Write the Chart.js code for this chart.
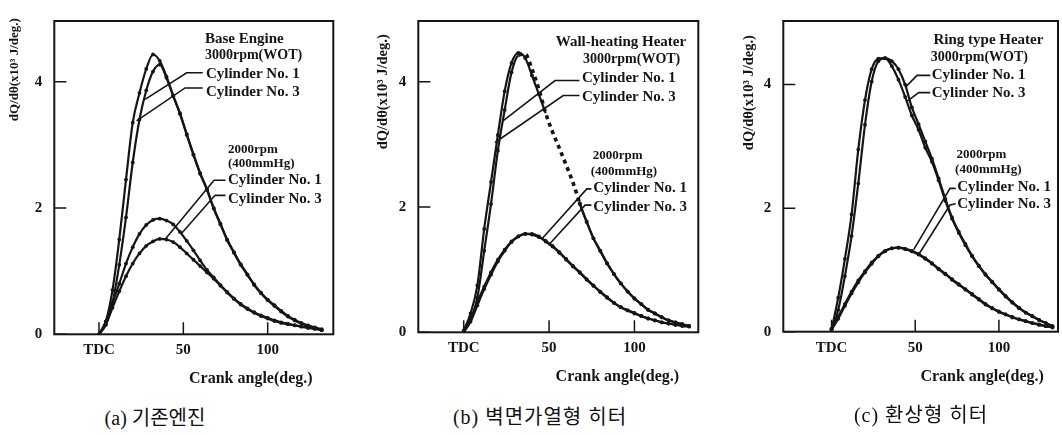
<!DOCTYPE html>
<html>
<head>
<meta charset="utf-8">
<script src="https://cdn.jsdelivr.net/npm/chart.js@4/dist/chart.umd.min.js"></script>
<style>
  body { margin: 0; background: #fff; }
  #wrap { position: relative; width: 1062px; height: 435px; overflow: hidden; }
  canvas { position: absolute; top: 0; }
  .cap {
    position: absolute; transform: translate(-50%, -50%); white-space: nowrap;
    font-family: "Liberation Serif", "Noto Sans CJK KR", serif; font-size: 20px; color: #111;
  }
</style>
</head>
<body>
<div id="wrap">
  <canvas id="chartA" width="354" height="400" style="left:0px"></canvas>
  <canvas id="chartB" width="354" height="400" style="left:354px"></canvas>
  <canvas id="chartC" width="354" height="400" style="left:708px"></canvas>
  <div class="cap" style="left:155px; top:416px">(a) 기존엔진</div>
  <div class="cap" style="left:540px; top:415px; letter-spacing:1px">(b) 벽면가열형 히터</div>
  <div class="cap" style="left:921px; top:413px; letter-spacing:1px">(c) 환상형 히터</div>
</div>
<script>
// crank angle (deg after TDC), shared by all curves
const angles = [0, 4, 8, 12, 16, 20, 24, 28, 32, 36, 40, 44, 48, 52, 56, 60, 64, 68, 72, 76,
  80, 84, 88, 92, 96, 100, 104, 108, 112, 116, 120, 124, 128, 132];

const xTickVals = [0, 50, 100];
const xTickLabels = ['TDC', '50', '100'];
const yTickVals = [0, 2, 4];
const yTickLabels = ['0', '2', '4'];

// (a) base engine, dQ/dθ in 10^3 J/deg
const aRpm3000Cyl1 = [0, 0.2, 0.7, 1.5, 2.45, 3.35, 3.82, 4.2, 4.43, 4.33, 4.08, 3.78, 3.5, 3.17, 2.85, 2.55, 2.3, 2.0,
  1.75, 1.5, 1.3, 1.11, 0.95, 0.79, 0.66, 0.55, 0.46, 0.37, 0.29, 0.23, 0.18, 0.14, 0.11, 0.08];
const aRpm3000Cyl3 = [0, 0.15, 0.5, 1.1, 1.85, 2.72, 3.4, 3.86, 4.16, 4.27, 4.06, 3.77, 3.49, 3.16, 2.84, 2.54, 2.29, 1.99,
  1.74, 1.49, 1.29, 1.1, 0.94, 0.78, 0.65, 0.54, 0.45, 0.36, 0.28, 0.22, 0.17, 0.13, 0.1, 0.07];
const aRpm2000Cyl1 = [0, 0.2, 0.5, 0.8, 1.12, 1.38, 1.59, 1.73, 1.81, 1.83, 1.8, 1.74, 1.62, 1.48, 1.33, 1.17, 1.02, 0.9,
  0.78, 0.67, 0.57, 0.48, 0.41, 0.35, 0.3, 0.26, 0.22, 0.19, 0.165, 0.145, 0.125, 0.11, 0.09, 0.07];
const aRpm2000Cyl3 = [0, 0.15, 0.42, 0.68, 0.92, 1.12, 1.28, 1.4, 1.47, 1.51, 1.5, 1.46, 1.38, 1.28, 1.18, 1.08, 0.98, 0.88,
  0.77, 0.66, 0.56, 0.47, 0.4, 0.34, 0.29, 0.25, 0.21, 0.18, 0.16, 0.14, 0.12, 0.1, 0.085, 0.065];

// (b) wall-heating heater
const bRpm3000Cyl1 = [0.03, 0.3, 0.75, 1.65, 2.4, 3.15, 3.85, 4.3, 4.46, 4.38, 4.1, 3.8, 3.5, 3.2, 2.93, 2.66, 2.38, 2.05,
  1.76, 1.5, 1.3, 1.1, 0.93, 0.78, 0.65, 0.54, 0.45, 0.36, 0.3, 0.24, 0.19, 0.16, 0.13, 0.1];
const bRpm3000Cyl3 = [0, 0.2, 0.55, 1.3, 2.05, 2.9, 3.55, 4.15, 4.42, 4.44, 4.2, 3.88, 3.5, 3.2, 2.94, 2.67, 2.39, 2.06,
  1.77, 1.5, 1.3, 1.1, 0.93, 0.78, 0.65, 0.54, 0.45, 0.36, 0.3, 0.24, 0.19, 0.16, 0.13, 0.1];
const bRpm2000Cyl1 = [0.02, 0.22, 0.48, 0.73, 0.96, 1.16, 1.32, 1.45, 1.53, 1.57, 1.57, 1.53, 1.46, 1.38, 1.28, 1.17, 1.06, 0.96,
  0.85, 0.75, 0.65, 0.56, 0.47, 0.4, 0.35, 0.31, 0.26, 0.22, 0.19, 0.16, 0.14, 0.12, 0.11, 0.1];
const bRpm2000Cyl3 = [0, 0.17, 0.43, 0.69, 0.92, 1.13, 1.3, 1.44, 1.53, 1.57, 1.56, 1.52, 1.45, 1.37, 1.27, 1.16, 1.05, 0.95,
  0.84, 0.74, 0.64, 0.55, 0.47, 0.4, 0.35, 0.3, 0.26, 0.22, 0.19, 0.16, 0.14, 0.12, 0.1, 0.09];

// (c) ring type heater
const cRpm3000Cyl1 = [0.03, 0.55, 1.18, 1.9, 2.95, 3.75, 4.25, 4.42, 4.43, 4.3, 4.08, 3.8, 3.5, 3.27, 2.98, 2.75, 2.45, 2.12,
  1.83, 1.6, 1.4, 1.22, 1.06, 0.92, 0.8, 0.68, 0.57, 0.47, 0.38, 0.31, 0.25, 0.19, 0.14, 0.09];
const cRpm3000Cyl3 = [0, 0.35, 0.9, 1.55, 2.4, 3.35, 4.05, 4.38, 4.43, 4.38, 4.25, 4.0, 3.63, 3.36, 3.08, 2.8, 2.48, 2.15,
  1.85, 1.62, 1.42, 1.23, 1.07, 0.93, 0.81, 0.69, 0.58, 0.48, 0.39, 0.31, 0.25, 0.19, 0.14, 0.09];
const cRpm2000Cyl1 = [0.05, 0.24, 0.45, 0.65, 0.83, 0.98, 1.12, 1.23, 1.31, 1.35, 1.36, 1.34, 1.31, 1.26, 1.19, 1.11, 1.02, 0.94,
  0.85, 0.77, 0.69, 0.61, 0.53, 0.45, 0.38, 0.33, 0.28, 0.24, 0.2, 0.17, 0.14, 0.12, 0.09, 0.07];
const cRpm2000Cyl3 = [0.03, 0.21, 0.42, 0.62, 0.8, 0.96, 1.1, 1.22, 1.3, 1.35, 1.36, 1.34, 1.3, 1.25, 1.18, 1.1, 1.01, 0.93,
  0.84, 0.76, 0.68, 0.6, 0.52, 0.44, 0.38, 0.32, 0.28, 0.23, 0.2, 0.17, 0.14, 0.11, 0.09, 0.07];

const ink = '#151515';
const serif = '"Liberation Serif", "DejaVu Serif", serif';

const xy = vals => angles.map((a, i) => ({ x: a, y: vals[i] }));

function curve(vals, extra) {
  return Object.assign({
    data: xy(vals),
    borderColor: ink,
    borderWidth: 2.2,
    pointRadius: 1.9,
    pointBackgroundColor: ink,
    pointBorderColor: ink,
    pointBorderWidth: 0,
    cubicInterpolationMode: 'monotone',
    fill: false
  }, extra || {});
}

// frame, inward ticks, notes, leader lines and axis titles
const decor = {
  id: 'decor',
  afterDraw(chart, args, o) {
    const { ctx, chartArea: ca } = chart;
    const x = chart.scales.x, y = chart.scales.y;
    const px = v => x.getPixelForValue(v), py = v => y.getPixelForValue(v);
    ctx.save();
    ctx.strokeStyle = ink;
    ctx.fillStyle = ink;
    ctx.lineWidth = 2;
    ctx.strokeRect(ca.left, ca.top, ca.right - ca.left, ca.bottom - ca.top);

    ctx.lineWidth = 1.5;
    ctx.beginPath();
    yTickVals.forEach(v => { ctx.moveTo(ca.left, py(v)); ctx.lineTo(ca.left + 12, py(v)); });
    xTickVals.forEach(v => { ctx.moveTo(px(v), ca.bottom); ctx.lineTo(px(v), ca.bottom - 12); });
    ctx.stroke();

    ctx.lineWidth = 1.6;
    o.leaders.forEach(pts => {
      ctx.beginPath();
      pts.forEach((p, i) => i ? ctx.lineTo(px(p[0]), py(p[1])) : ctx.moveTo(px(p[0]), py(p[1])));
      ctx.stroke();
    });

    ctx.textAlign = 'left';
    ctx.textBaseline = 'middle';
    o.notes.forEach(n => {
      ctx.font = 'bold ' + (n.size || 15) + 'px ' + serif;
      ctx.fillText(n.text, px(n.x), py(n.y));
    });

    ctx.textAlign = 'center';
    ctx.font = 'bold 16px ' + serif;
    ctx.fillText('Crank angle(deg.)', px(90), ca.bottom + 45);

    ctx.translate(ca.left + o.yTitleDx, py(o.yTitleAt));
    ctx.rotate(-Math.PI / 2);
    ctx.font = 'bold ' + o.yTitleSize + 'px ' + serif;
    ctx.fillText('dQ/dθ(x10³ J/deg.)', 0, 0);
    ctx.restore();
  }
};

function makePanel(id, geo, datasets, decorOpts) {
  new Chart(document.getElementById(id), {
    type: 'line',
    data: { datasets: datasets },
    plugins: [decor],
    options: {
      responsive: false,
      animation: false,
      devicePixelRatio: 1,
      layout: { padding: { top: geo.top, right: geo.right, left: 0, bottom: 0 } },
      plugins: { legend: { display: false }, tooltip: { enabled: false }, decor: decorOpts },
      scales: {
        x: {
          type: 'linear', min: geo.xMin, max: geo.xMax,
          afterBuildTicks: s => { s.ticks = xTickVals.map(v => ({ value: v })); },
          afterFit: s => { s.height = geo.xH; },
          grid: { display: false, drawTicks: false },
          border: { display: false },
          ticks: {
            autoSkip: false, maxRotation: 0, padding: 7, color: ink,
            font: { family: serif, size: 15, weight: 'bold' },
            callback: v => xTickLabels[xTickVals.indexOf(v)]
          }
        },
        y: {
          min: 0, max: geo.yMax,
          afterBuildTicks: s => { s.ticks = yTickVals.map(v => ({ value: v })); },
          afterFit: s => { s.width = geo.yW; },
          grid: { display: false, drawTicks: false },
          border: { display: false },
          ticks: {
            autoSkip: false, padding: 12, color: ink,
            font: { family: serif, size: 15, weight: 'bold' },
            callback: v => yTickLabels[yTickVals.indexOf(v)]
          }
        }
      }
    }
  });
}

// (a)
makePanel('chartA',
  { top: 11, right: 20.7, yW: 54.3, xH: 65.7, xMin: -26.5, xMax: 138.9, yMax: 4.96 },
  [curve(aRpm3000Cyl1), curve(aRpm3000Cyl3), curve(aRpm2000Cyl1), curve(aRpm2000Cyl3)],
  {
    yTitleDx: -39.3, yTitleAt: 4.19, yTitleSize: 13,
    notes: [
      { text: 'Base Engine', x: 62.8, y: 4.68 },
      { text: '3000rpm(WOT)', x: 62.8, y: 4.41, size: 14 },
      { text: 'Cylinder No. 1', x: 63.4, y: 4.12 },
      { text: 'Cylinder No. 3', x: 63.4, y: 3.84 },
      { text: '2000rpm', x: 76.5, y: 2.93, size: 13 },
      { text: '(400mmHg)', x: 76.5, y: 2.70, size: 13 },
      { text: 'Cylinder No. 1', x: 76.5, y: 2.44 },
      { text: 'Cylinder No. 3', x: 76.5, y: 2.14 }
    ],
    leaders: [
      [[61.5, 4.14], [52.0, 4.14], [27.3, 3.72]],
      [[61.5, 3.90], [51.0, 3.90], [22.3, 3.38]],
      [[75.0, 2.44], [68.2, 2.44], [39.7, 1.52]],
      [[75.0, 2.20], [68.8, 2.20], [49.0, 1.60]]
    ]
  });

// (b) rpm3000 cyl 3 is printed as heavy dots on the falling side
const inDots = ctx => ctx.p0.parsed.x >= 32 && ctx.p1.parsed.x <= 68;
const hidden = ctx => ctx.p0.parsed.x >= 48 && ctx.p1.parsed.x <= 68;
makePanel('chartB',
  { top: 8.3, right: 9.7, yW: 64.3, xH: 67.7, xMin: -26.6, xMax: 137.4, yMax: 4.97 },
  [
    curve(bRpm3000Cyl1, {
      segment: { borderColor: c => hidden(c) ? 'rgba(0,0,0,0)' : undefined },
      pointRadius: c => (c.raw && c.raw.x > 44 && c.raw.x < 68) ? 0 : 1.9
    }),
    curve(bRpm3000Cyl3, {
      segment: { borderDash: c => inDots(c) ? [4, 4] : undefined, borderWidth: c => inDots(c) ? 3.6 : undefined },
      pointRadius: c => (c.raw && c.raw.x > 30 && c.raw.x < 68) ? 0 : 1.9
    }),
    curve(bRpm2000Cyl1), curve(bRpm2000Cyl3)
  ],
  {
    yTitleDx: -35.3, yTitleAt: 3.84, yTitleSize: 14.5,
    notes: [
      { text: 'Wall-heating Heater', x: 53.9, y: 4.64 },
      { text: '3000rpm(WOT)', x: 69.9, y: 4.35, size: 14 },
      { text: 'Cylinder No. 1', x: 69.3, y: 4.06 },
      { text: 'Cylinder No. 3', x: 69.3, y: 3.76 },
      { text: '2000rpm', x: 75.6, y: 2.82, size: 13 },
      { text: '(400mmHg)', x: 74.4, y: 2.57, size: 13 },
      { text: 'Cylinder No. 1', x: 75.9, y: 2.30 },
      { text: 'Cylinder No. 3', x: 75.9, y: 2.00 }
    ],
    leaders: [
      [[67.8, 4.02], [53.5, 4.02], [23.2, 3.38]],
      [[67.8, 3.78], [58.3, 3.78], [18.3, 3.03]],
      [[74.8, 2.29], [72.1, 2.29], [45.7, 1.49]],
      [[74.8, 2.03], [71.1, 2.03], [49.6, 1.39]]
    ]
  });

// (c)
makePanel('chartC',
  { top: 4, right: 1.3, yW: 75.3, xH: 68.3, xMin: -28.8, xMax: 135.3, yMax: 5.03 },
  [curve(cRpm3000Cyl1), curve(cRpm3000Cyl3), curve(cRpm2000Cyl1), curve(cRpm2000Cyl3)],
  {
    yTitleDx: -33.8, yTitleAt: 3.87, yTitleSize: 14.5,
    notes: [
      { text: 'Ring type Heater', x: 60.9, y: 4.72 },
      { text: '3000rpm(WOT)', x: 59.3, y: 4.44, size: 14 },
      { text: 'Cylinder No. 1', x: 59.9, y: 4.15 },
      { text: 'Cylinder No. 3', x: 59.9, y: 3.86 },
      { text: '2000rpm', x: 74.7, y: 2.86, size: 13 },
      { text: '(400mmHg)', x: 73.8, y: 2.62, size: 13 },
      { text: 'Cylinder No. 1', x: 75.1, y: 2.34 },
      { text: 'Cylinder No. 3', x: 75.1, y: 2.07 }
    ],
    leaders: [
      [[59.0, 4.15], [51.1, 4.15], [44.2, 3.96]],
      [[59.0, 3.87], [52.1, 3.87], [45.1, 3.73]],
      [[74.2, 2.32], [70.8, 2.32], [49.1, 1.33]],
      [[74.2, 2.07], [70.8, 2.05], [52.1, 1.25]]
    ]
  });
</script>
</body>
</html>
